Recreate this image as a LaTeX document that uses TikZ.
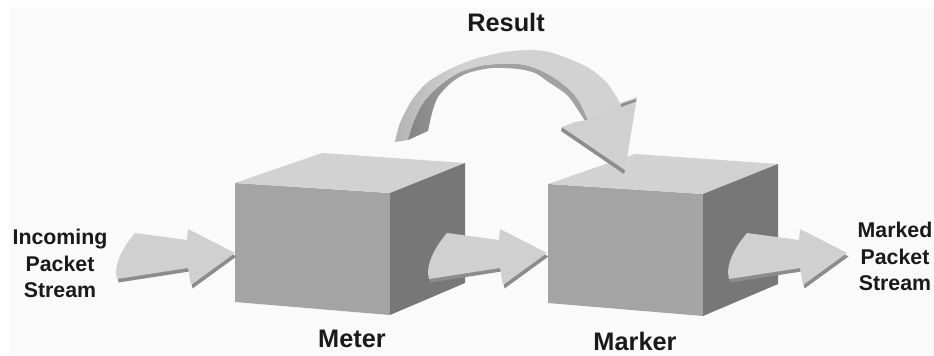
\documentclass[tikz,border=0pt]{standalone}
\usepackage{fontspec}
\setmainfont{Liberation Sans}
\definecolor{bgcol}{HTML}{FAFAFA}
\definecolor{cubefront}{HTML}{A4A4A4}
\definecolor{cubetop}{HTML}{D2D2D2}
\definecolor{cubeside}{HTML}{777777}
\definecolor{arrlight}{HTML}{D0D0D0}
\definecolor{arrdark}{HTML}{8C8C8C}
\definecolor{labelink}{HTML}{1A1A1A}
\definecolor{archA}{HTML}{AAAAAA}
\definecolor{archB}{HTML}{D2D2D2}
\definecolor{sideA}{HTML}{787878}
\definecolor{sideB}{HTML}{A2A2A2}
\pgfdeclarehorizontalshading{archface}{100bp}{color(0bp)=(archA); color(20bp)=(archA); color(40bp)=(archB); color(100bp)=(archB)}
\pgfdeclarehorizontalshading{archside}{100bp}{color(0bp)=(sideA); color(18bp)=(sideA); color(42bp)=(sideB); color(100bp)=(sideB)}
\newcommand\fatarrowpath{(-100,-20) -- (-48,-13) -- (-47,-24) -- (0,0) -- (-44,32) -- (-47,15) -- (-118,26) .. controls (-122,12) and (-112,-6) .. (-100,-20) -- cycle}
\tikzset{
  biglabel/.style={font=\bfseries\fontsize{19}{22}\selectfont, text=labelink, inner sep=0pt},
  smalllabel/.style={font=\bfseries\fontsize{16}{19.9}\selectfont, align=center, text=labelink, inner sep=0pt},
  cubepic/.pic={
    \fill[cubefront] (0,0) -- (155,10) -- (155,132) -- (0,119) -- cycle;
    \fill[cubetop] (0,0) -- (87,-30) -- (230,-20) -- (155,10) -- cycle;
    \fill[cubeside] (155,10) -- (230,-20) -- (230,100) -- (155,132) -- cycle;
  },
  flatarrow/.pic={
    \fill[arrdark, shift={(1.5,3.5)}] \fatarrowpath;
    \fill[arrlight] \fatarrowpath;
  }
}
\begin{document}
\begin{tikzpicture}[x=0.75pt, y=-0.75pt]
\useasboundingbox (0,0) rectangle (934,356);
\fill[white] (0,0) rectangle (934,356);
\fill[bgcol] (9,7) rectangle (934,356);

% cubes
\pic (meterbox) at (235,183) {cubepic};
\pic (markerbox) at (548,184) {cubepic};

% straight arrows
\pic (inarrow) at (235,253) {flatarrow};
\pic (midarrow) at (547,253) {flatarrow};
\pic (outarrow) at (847,253) {flatarrow};

% curved result arrow: inner side band
\shade[shading=archside] (408,140) -- plot[smooth] coordinates {(408,140) (413,123) (423,103) (438,87) (458,73) (485,65) (518,64) (535,68) (553,77) (570,90) (580,103) (588,120)} -- plot[smooth] coordinates {(585,121) (578,110) (567,95) (547,81) (535,73) (518,69) (492,68) (468,73) (452,82) (438,97) (432,113) (428,131)} -- cycle;
% top face
\shade[shading=archface] (395,142) -- plot[smooth] coordinates {(395,142) (400,123) (412,100) (428,82) (452,68) (478,58) (505,52) (530,50) (553,53) (587,67) (607,83) (620,103)} -- (588,120) -- plot[smooth] coordinates {(588,120) (580,103) (570,90) (553,77) (535,68) (518,64) (485,65) (458,73) (438,87) (423,103) (413,123) (408,140)} -- cycle;
% head
\fill[arrdark] (562,127) -- (625,170) -- (624,174) -- (561,131) -- cycle;
\fill[arrlight] (620,103) -- (637,97) -- (625,170) -- (562,127) -- (575,122) -- (588,120) -- cycle;
\fill[arrdark] (621,104) -- (636,99) -- (636,101.5) -- (621,107) -- cycle;

% labels
\node[biglabel, anchor=base] (result) at (506,32) {Result};
\node[biglabel, anchor=base] (meter) at (352,347) {Meter};
\node[biglabel, anchor=base] (marker) at (635,350) {Marker};
\node[smalllabel, anchor=north] (incoming) at (60,229) {Incoming\\Packet\\Stream};
\node[smalllabel, anchor=north] (marked) at (895,222) {Marked\\Packet\\Stream};
\end{tikzpicture}
\end{document}
